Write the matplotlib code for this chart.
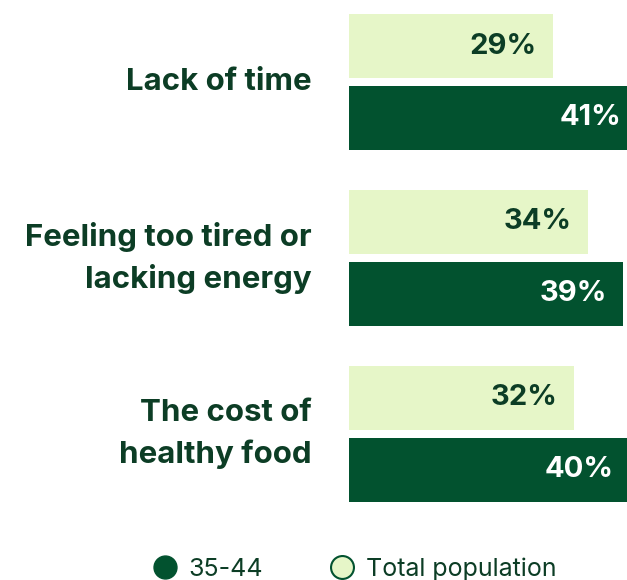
import matplotlib.pyplot as plt
from matplotlib.lines import Line2D

categories = ["Lack of time", "Feeling too tired or\nlacking energy", "The cost of\nhealthy food"]
total_population = [29, 34, 32]
age_35_44 = [41, 39, 40]

dark = '#02522f'
light = '#e6f6c8'
text_dark = '#0c3d25'

plt.rcParams['font.family'] = ['Inter', 'DejaVu Sans']

fig = plt.figure(figsize=(6.27, 5.8), dpi=100)
ax = fig.add_axes([349 / 627, 0, 1 - 349 / 627, 1])

h = 0.364
off = 0.2045
ys = range(len(categories))
ax.barh([y - off for y in ys], total_population, height=h, color=light)
ax.barh([y + off for y in ys], age_35_44, height=h, color=dark)

for y, a, b in zip(ys, total_population, age_35_44):
    ax.text(a - 2.3, y - off, f"{a}%", ha='right', va='center', fontsize=21,
            fontweight='bold', color=text_dark)
    ax.text(b - 2.3, y + off, f"{b}%", ha='right', va='center', fontsize=21,
            fontweight='bold', color='white')

for y, cat in zip(ys, categories):
    ax.text(-5.3, y, cat, ha='right', va='center', fontsize=22.5, fontweight='bold',
            color=text_dark, linespacing=1.5, clip_on=False)

ax.set_xlim(0, 39.55)
ax.set_ylim(2.83, -0.466)
ax.axis('off')

handles = [
    Line2D([], [], marker='o', linestyle='none', markersize=16.5, color=dark, label='35-44'),
    Line2D([], [], marker='o', linestyle='none', markersize=16.5, markerfacecolor=light,
           markeredgecolor=dark, markeredgewidth=1.5, label='Total population'),
]
leg = fig.legend(handles=handles, loc='center', bbox_to_anchor=(0.562, 0.019), ncol=2,
                 frameon=False, fontsize=18, handlelength=1.3, handletextpad=0.3,
                 columnspacing=2.5)
for t in leg.get_texts():
    t.set_color(text_dark)

fig.savefig('out.png', dpi=100)
